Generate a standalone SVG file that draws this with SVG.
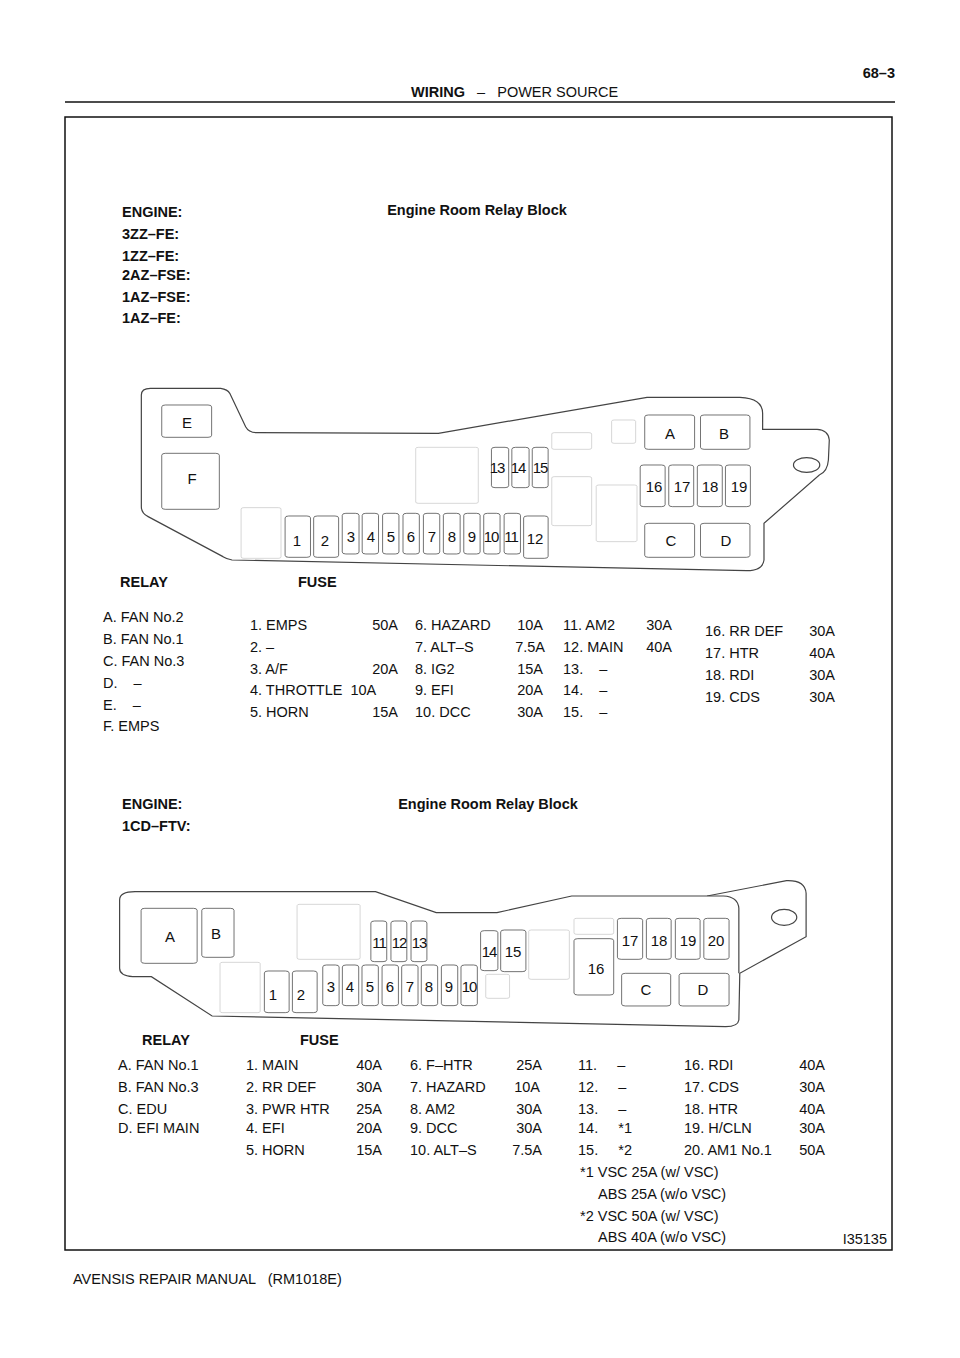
<svg xmlns="http://www.w3.org/2000/svg" width="960" height="1358" viewBox="0 0 960 1358">
<style>
text{font-family:"Liberation Sans",Arial,sans-serif;font-size:14.5px;fill:#111;white-space:pre}
.b{font-weight:bold}
.e{text-anchor:end}
.m{text-anchor:middle}
.ol{fill:#fff;stroke:#444;stroke-width:1.2;vector-effect:non-scaling-stroke}
.d{fill:#fff;stroke:#222;stroke-width:1.6;vector-effect:non-scaling-stroke}
.l{fill:#fff;stroke:#999;stroke-width:1;vector-effect:non-scaling-stroke}
.n{font-size:15px;text-anchor:middle}
</style>
<rect width="960" height="1358" fill="#fff"/>
<g id="header">
<line x1="65" y1="102" x2="895" y2="102" stroke="#111" stroke-width="1.5"/>
<text x="411" y="97" font-size="12"><tspan class="b">WIRING</tspan>   –   POWER SOURCE</text>
<text x="895" y="78" class="b e" font-size="15">68–3</text>
<rect x="65" y="117" width="827" height="1133" fill="none" stroke="#111" stroke-width="1.5"/>
<text x="887" y="1244" class="e" font-size="10">I35135</text>
<text x="73" y="1284" font-size="12">AVENSIS REPAIR MANUAL   (RM1018E)</text>
</g>
<g id="top-block">
<g transform="translate(130,360) scale(0.4535,0.3333)">
<path class="ol" d="M45,85 L200,85 Q215,88 220,100 L255,200 Q262,218 280,218 L680,220 L1140,112 L1345,112 Q1395,115 1395,160 L1395,208 L1515,208 Q1540,210 1542,240 L1540,300 Q1538,335 1520,345 L1398,490 L1398,600 Q1395,632 1360,632 L225,600 Q215,598 205,590 L40,470 Q25,460 25,440 L25,105 Q25,85 45,85 Z"/>
<ellipse class="ol" cx="1492" cy="315" rx="29" ry="22"/>
<g class="l">
<rect x="245" y="443" width="88" height="152" rx="6" ry="4"/>
<rect x="630" y="262" width="138" height="168" rx="6" ry="4"/>
<rect x="930" y="218" width="88" height="50" rx="6" ry="4"/>
<rect x="930" y="350" width="88" height="147" rx="6" ry="4"/>
<rect x="1028" y="375" width="90" height="170" rx="6" ry="4"/>
<rect x="1062" y="180" width="53" height="70" rx="6" ry="4"/>
</g>
<g class="d">
<rect x="70" y="135" width="110" height="97" rx="8" ry="6"/>
<rect x="70" y="280" width="127" height="168" rx="8" ry="6"/>
<rect x="342" y="468" width="56" height="124" rx="8" ry="6"/>
<rect x="405" y="468" width="55" height="124" rx="8" ry="6"/>
<rect x="468" y="460" width="37" height="122" rx="8" ry="6"/>
<rect x="512" y="460" width="36" height="122" rx="8" ry="6"/>
<rect x="557" y="460" width="36" height="122" rx="8" ry="6"/>
<rect x="602" y="460" width="36" height="122" rx="8" ry="6"/>
<rect x="647" y="460" width="36" height="122" rx="8" ry="6"/>
<rect x="691" y="460" width="37" height="122" rx="8" ry="6"/>
<rect x="736" y="460" width="36" height="122" rx="8" ry="6"/>
<rect x="780" y="460" width="36" height="122" rx="8" ry="6"/>
<rect x="825" y="460" width="36" height="122" rx="8" ry="6"/>
<rect x="868" y="468" width="54" height="127" rx="8" ry="6"/>
<rect x="797" y="262" width="38" height="121" rx="8" ry="6"/>
<rect x="842" y="262" width="38" height="121" rx="8" ry="6"/>
<rect x="887" y="262" width="35" height="121" rx="8" ry="6"/>
<rect x="1135" y="165" width="110" height="103" rx="8" ry="6"/>
<rect x="1258" y="165" width="109" height="103" rx="8" ry="6"/>
<rect x="1125" y="315" width="55" height="125" rx="8" ry="6"/>
<rect x="1188" y="315" width="55" height="125" rx="8" ry="6"/>
<rect x="1251" y="315" width="55" height="125" rx="8" ry="6"/>
<rect x="1313" y="315" width="55" height="125" rx="8" ry="6"/>
<rect x="1135" y="490" width="110" height="102" rx="8" ry="6"/>
<rect x="1258" y="490" width="109" height="102" rx="8" ry="6"/>
</g>
</g>
<text x="187" y="428" class="n">E</text>
<text x="192" y="484" class="n">F</text>
<text x="297" y="546" class="n">1</text>
<text x="325" y="546" class="n">2</text>
<text x="351" y="542" class="n">3</text>
<text x="371" y="542" class="n">4</text>
<text x="391" y="542" class="n">5</text>
<text x="411" y="542" class="n">6</text>
<text x="432" y="542" class="n">7</text>
<text x="452" y="542" class="n">8</text>
<text x="472" y="542" class="n">9</text>
<text x="491" y="542" class="n" letter-spacing="-1">10</text>
<text x="511" y="542" class="n" letter-spacing="-1">11</text>
<text x="535" y="544" class="n">12</text>
<text x="497" y="473" class="n" letter-spacing="-1">13</text>
<text x="518" y="473" class="n" letter-spacing="-1">14</text>
<text x="540" y="473" class="n" letter-spacing="-1">15</text>
<text x="670" y="439" class="n">A</text>
<text x="724" y="439" class="n">B</text>
<text x="654" y="492" class="n">16</text>
<text x="682" y="492" class="n">17</text>
<text x="710" y="492" class="n">18</text>
<text x="739" y="492" class="n">19</text>
<text x="671" y="546" class="n">C</text>
<text x="726" y="546" class="n">D</text>
</g>
<g id="top-text">
<text x="122" y="217" class="b">ENGINE:</text>
<text x="122" y="239" class="b">3ZZ–FE:</text>
<text x="122" y="261" class="b">1ZZ–FE:</text>
<text x="122" y="280" class="b">2AZ–FSE:</text>
<text x="122" y="302" class="b">1AZ–FSE:</text>
<text x="122" y="323" class="b">1AZ–FE:</text>
<text x="477" y="215" class="b m">Engine Room Relay Block</text>
<text x="120" y="587" class="b">RELAY</text>
<text x="298" y="587" class="b">FUSE</text>
<text x="103" y="622">A. FAN No.2</text>
<text x="103" y="644">B. FAN No.1</text>
<text x="103" y="666">C. FAN No.3</text>
<text x="103" y="688">D.    –</text>
<text x="103" y="710">E.    –</text>
<text x="103" y="731">F. EMPS</text>
<text x="250" y="630">1. EMPS</text><text x="398" y="630" class="e">50A</text>
<text x="250" y="652">2. –</text>
<text x="250" y="674">3. A/F</text><text x="398" y="674" class="e">20A</text>
<text x="250" y="695">4. THROTTLE  10A</text>
<text x="250" y="717">5. HORN</text><text x="398" y="717" class="e">15A</text>
<text x="415" y="630">6. HAZARD</text><text x="543" y="630" class="e">10A</text>
<text x="415" y="652">7. ALT–S</text><text x="545" y="652" class="e">7.5A</text>
<text x="415" y="674">8. IG2</text><text x="543" y="674" class="e">15A</text>
<text x="415" y="695">9. EFI</text><text x="543" y="695" class="e">20A</text>
<text x="415" y="717">10. DCC</text><text x="543" y="717" class="e">30A</text>
<text x="563" y="630">11. AM2</text><text x="672" y="630" class="e">30A</text>
<text x="563" y="652">12. MAIN</text><text x="672" y="652" class="e">40A</text>
<text x="563" y="674">13.    –</text>
<text x="563" y="695">14.    –</text>
<text x="563" y="717">15.    –</text>
<text x="705" y="636">16. RR DEF</text><text x="835" y="636" class="e">30A</text>
<text x="705" y="658">17. HTR</text><text x="835" y="658" class="e">40A</text>
<text x="705" y="680">18. RDI</text><text x="835" y="680" class="e">30A</text>
<text x="705" y="702">19. CDS</text><text x="835" y="702" class="e">30A</text>
</g>
<g id="bottom-block">
<g transform="translate(100,840) scale(0.467,0.3333)">
<path class="ol" d="M75,155 L590,155 L720,218 L850,218 L1010,168 L1300,168 L1470,122 Q1510,120 1512,160 L1512,290 L1370,400 L1368,540 Q1366,560 1340,560 L240,528 L110,410 L70,410 Q42,408 42,385 L42,180 Q42,155 75,155 Z"/>
<path class="ol" d="M1300,168 L1335,168 Q1366,170 1368,205 L1368,400"/>
<ellipse class="ol" cx="1465" cy="232" rx="27" ry="24"/>
<g class="l">
<rect x="422" y="193" width="135" height="165" rx="6" ry="4"/>
<rect x="257" y="367" width="86" height="151" rx="6" ry="4"/>
<rect x="826" y="403" width="51" height="72" rx="6" ry="4"/>
<rect x="918" y="270" width="87" height="148" rx="6" ry="4"/>
<rect x="1015" y="235" width="85" height="48" rx="6" ry="4"/>
</g>
<g class="d">
<rect x="88" y="205" width="120" height="165" rx="8" ry="6"/>
<rect x="218" y="205" width="69" height="147" rx="8" ry="6"/>
<rect x="352" y="393" width="53" height="125" rx="8" ry="6"/>
<rect x="412" y="393" width="53" height="125" rx="8" ry="6"/>
<rect x="477" y="375" width="35" height="122" rx="8" ry="6"/>
<rect x="519" y="375" width="35" height="122" rx="8" ry="6"/>
<rect x="561" y="375" width="35" height="122" rx="8" ry="6"/>
<rect x="604" y="375" width="35" height="122" rx="8" ry="6"/>
<rect x="646" y="375" width="35" height="122" rx="8" ry="6"/>
<rect x="688" y="375" width="35" height="122" rx="8" ry="6"/>
<rect x="731" y="375" width="35" height="122" rx="8" ry="6"/>
<rect x="773" y="375" width="35" height="122" rx="8" ry="6"/>
<rect x="580" y="243" width="34" height="122" rx="8" ry="6"/>
<rect x="623" y="243" width="34" height="122" rx="8" ry="6"/>
<rect x="666" y="243" width="34" height="122" rx="8" ry="6"/>
<rect x="815" y="272" width="37" height="120" rx="8" ry="6"/>
<rect x="858" y="270" width="54" height="125" rx="8" ry="6"/>
<rect x="1015" y="296" width="85" height="169" rx="8" ry="6"/>
<rect x="1108" y="235" width="54" height="123" rx="8" ry="6"/>
<rect x="1170" y="235" width="53" height="123" rx="8" ry="6"/>
<rect x="1232" y="235" width="53" height="123" rx="8" ry="6"/>
<rect x="1293" y="235" width="54" height="123" rx="8" ry="6"/>
<rect x="1117" y="400" width="105" height="98" rx="8" ry="6"/>
<rect x="1240" y="400" width="107" height="98" rx="8" ry="6"/>
</g>
</g>
<text x="170" y="942" class="n">A</text>
<text x="216" y="939" class="n">B</text>
<text x="273" y="1000" class="n">1</text>
<text x="301" y="1000" class="n">2</text>
<text x="331" y="992" class="n">3</text>
<text x="350" y="992" class="n">4</text>
<text x="370" y="992" class="n">5</text>
<text x="390" y="992" class="n">6</text>
<text x="410" y="992" class="n">7</text>
<text x="429" y="992" class="n">8</text>
<text x="449" y="992" class="n">9</text>
<text x="469" y="992" class="n" letter-spacing="-1">10</text>
<text x="379" y="948" class="n" letter-spacing="-1">11</text>
<text x="399" y="948" class="n" letter-spacing="-1">12</text>
<text x="419" y="948" class="n" letter-spacing="-1">13</text>
<text x="489" y="957" class="n" letter-spacing="-1">14</text>
<text x="513" y="957" class="n">15</text>
<text x="596" y="974" class="n">16</text>
<text x="630" y="946" class="n">17</text>
<text x="659" y="946" class="n">18</text>
<text x="688" y="946" class="n">19</text>
<text x="716" y="946" class="n">20</text>
<text x="646" y="995" class="n">C</text>
<text x="703" y="995" class="n">D</text>
</g>
<g id="bottom-text">
<text x="122" y="809" class="b">ENGINE:</text>
<text x="122" y="831" class="b">1CD–FTV:</text>
<text x="488" y="809" class="b m">Engine Room Relay Block</text>
<text x="142" y="1045" class="b">RELAY</text>
<text x="300" y="1045" class="b">FUSE</text>
<text x="118" y="1070">A. FAN No.1</text>
<text x="118" y="1092">B. FAN No.3</text>
<text x="118" y="1114">C. EDU</text>
<text x="118" y="1133">D. EFI MAIN</text>
<text x="246" y="1070">1. MAIN</text><text x="382" y="1070" class="e">40A</text>
<text x="246" y="1092">2. RR DEF</text><text x="382" y="1092" class="e">30A</text>
<text x="246" y="1114">3. PWR HTR</text><text x="382" y="1114" class="e">25A</text>
<text x="246" y="1133">4. EFI</text><text x="382" y="1133" class="e">20A</text>
<text x="246" y="1155">5. HORN</text><text x="382" y="1155" class="e">15A</text>
<text x="410" y="1070">6. F–HTR</text><text x="542" y="1070" class="e">25A</text>
<text x="410" y="1092">7. HAZARD</text><text x="540" y="1092" class="e">10A</text>
<text x="410" y="1114">8. AM2</text><text x="542" y="1114" class="e">30A</text>
<text x="410" y="1133">9. DCC</text><text x="542" y="1133" class="e">30A</text>
<text x="410" y="1155">10. ALT–S</text><text x="542" y="1155" class="e">7.5A</text>
<text x="578" y="1070">11.     –</text>
<text x="578" y="1092">12.     –</text>
<text x="578" y="1114">13.     –</text>
<text x="578" y="1133">14.     *1</text>
<text x="578" y="1155">15.     *2</text>
<text x="684" y="1070">16. RDI</text><text x="825" y="1070" class="e">40A</text>
<text x="684" y="1092">17. CDS</text><text x="825" y="1092" class="e">30A</text>
<text x="684" y="1114">18. HTR</text><text x="825" y="1114" class="e">40A</text>
<text x="684" y="1133">19. H/CLN</text><text x="825" y="1133" class="e">30A</text>
<text x="684" y="1155">20. AM1 No.1</text><text x="825" y="1155" class="e">50A</text>
<text x="580" y="1177">*1 VSC 25A (w/ VSC)</text>
<text x="598" y="1199">ABS 25A (w/o VSC)</text>
<text x="580" y="1221">*2 VSC 50A (w/ VSC)</text>
<text x="598" y="1242">ABS 40A (w/o VSC)</text>
</g>
<g id="connectors"/>
</svg>
